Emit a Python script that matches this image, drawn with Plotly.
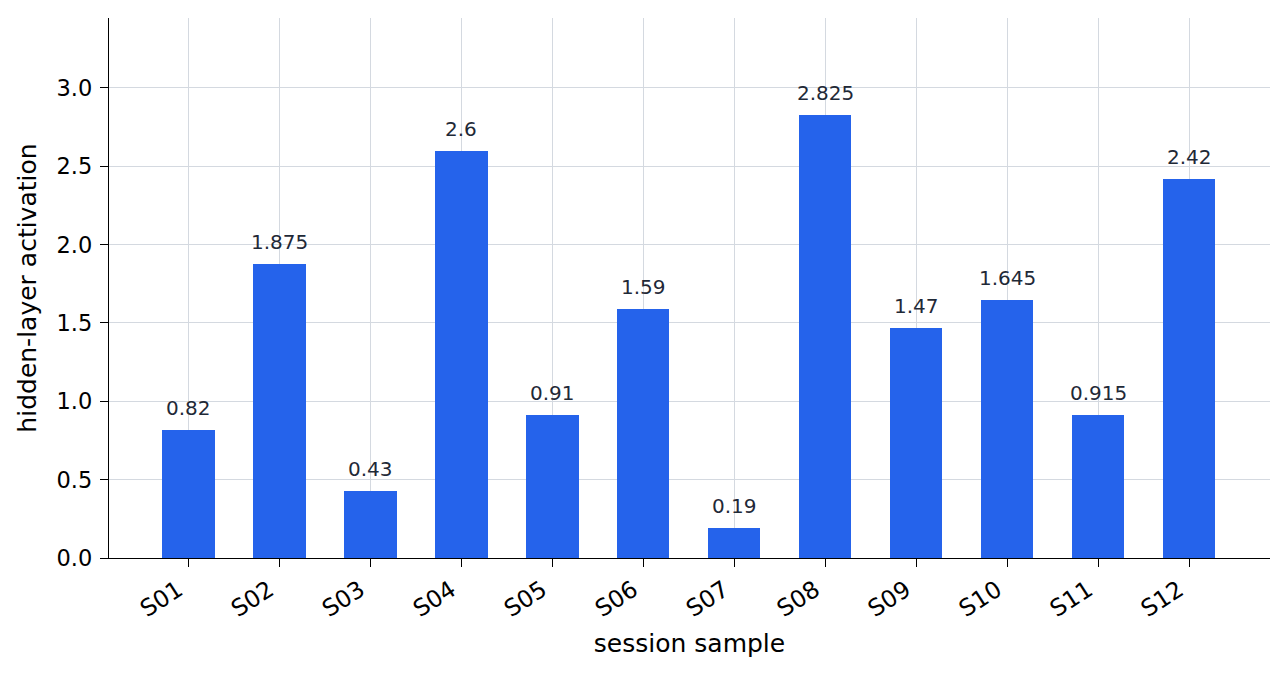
import plotly.graph_objects as go

categories = ["S01", "S02", "S03", "S04", "S05", "S06", "S07", "S08", "S09", "S10", "S11", "S12"]
values = [0.82, 1.875, 0.43, 2.6, 0.91, 1.59, 0.19, 2.825, 1.47, 1.645, 0.915, 2.42]
labels = ["0.82", "1.875", "0.43", "2.6", "0.91", "1.59", "0.19", "2.825", "1.47", "1.645", "0.915", "2.42"]

FONT = "DejaVu Sans"
fig = go.Figure()
fig.add_trace(go.Bar(x=categories, y=values, width=0.58, marker=dict(color="#2563eb", line=dict(width=0)),
                     hoverinfo="x+y"))

for c, v, t in zip(categories, values, labels):
    fig.add_annotation(x=c, y=v, text=t, showarrow=False, yanchor="bottom", yshift=8,
                       font=dict(family=FONT, size=20, color="#1f2937"))

fig.update_layout(
    width=1287, height=675,
    margin=dict(l=109, r=17, t=18, b=117),
    plot_bgcolor="white", paper_bgcolor="white",
    font=dict(family=FONT, color="black"),
    showlegend=False,
    bargap=0,
)
fig.update_xaxes(
    range=[-0.87, 11.89],
    showline=True, linecolor="black", linewidth=1.3,
    ticks="outside", ticklen=8, tickwidth=1.3, tickcolor="black",
    tickangle=-33, tickfont=dict(family=FONT, size=23.5, color="black"),
    ticklabelstandoff=0, ticklabelshift=-10,
    showgrid=True, gridcolor="#d4d9e0", gridwidth=1.2,
    title=dict(text="session sample", font=dict(family=FONT, size=25, color="black"), standoff=12),
    mirror=False, zeroline=False,
)
fig.update_yaxes(
    range=[0, 3.4465],
    tickvals=[0, 0.5, 1.0, 1.5, 2.0, 2.5, 3.0], tickformat=".1f",
    showline=True, linecolor="black", linewidth=1.3,
    ticks="outside", ticklen=8, tickwidth=1.3, tickcolor="black",
    tickfont=dict(family=FONT, size=22.5, color="black"),
    ticklabelstandoff=3,
    showgrid=True, gridcolor="#d4d9e0", gridwidth=1.2,
    title=dict(text="hidden-layer activation", font=dict(family=FONT, size=25, color="black"), standoff=12),
    zeroline=False,
)

fig.write_html("out.html")
